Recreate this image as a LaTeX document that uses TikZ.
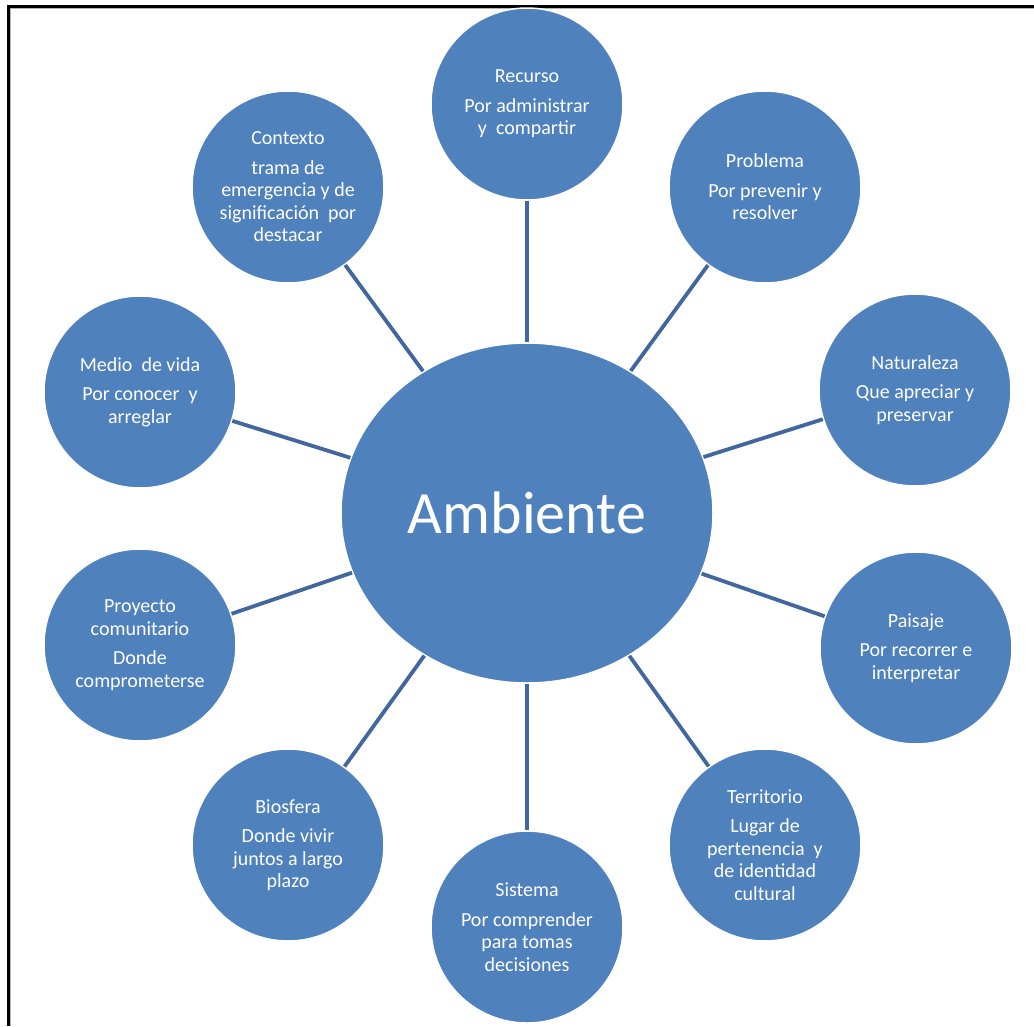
\documentclass[tikz,border=0pt]{standalone}
\usepackage{fontspec}
\setmainfont{Carlito}
\usetikzlibrary{shapes.geometric}

\definecolor{ambblue}{HTML}{4F81BD}
\definecolor{spokeblue}{HTML}{41679E}

\begin{document}
\begin{tikzpicture}[x=1pt, y=-1pt,
  satellite/.style={circle, fill=ambblue, draw=white, line width=1.5pt, minimum size=192pt,
    inner sep=0pt, text=white, align=center, font=\fontsize{20}{22.5}\selectfont},
  hub/.style={ellipse, fill=ambblue, draw=white, line width=1.5pt, minimum width=372pt,
    minimum height=340pt, inner sep=0pt, text=white, font=\fontsize{60}{70}\selectfont},
  spoke/.style={draw=spokeblue, line width=3.8pt}]
  \useasboundingbox (0,0) rectangle (1034,1026);
  \fill[white] (0,0) rectangle (1034,1026);

  % frame, only top and left
  \draw[gray!60, line width=1pt] (10.5,1026) -- (10.5,8.5) -- (1034,8.5);
  \draw[line width=3pt] (8,1026) -- (8,6) -- (1034,6);

  \node[hub] (amb) at (527,513) {Ambiente};

  \node[satellite] (rec) at (527,104) {Recurso\\[7pt] Por administrar\\ y~ compartir};
  \node[satellite] (prob) at (765,187) {Problema\\[7pt] Por prevenir y\\ resolver};
  \node[satellite] (nat) at (915,390) {Naturaleza\\[7pt] Que apreciar y\\ preservar};
  \node[satellite] (pais) at (916,648) {Paisaje\\[7pt] Por recorrer e\\ interpretar};
  \node[satellite] (terr) at (765,845) {Territorio\\[7pt] Lugar de\\ pertenencia~ y\\ de identidad\\ cultural};
  \node[satellite] (sis) at (527,927) {Sistema\\[7pt] Por comprender\\ para tomas\\ decisiones};
  \node[satellite] (bio) at (288,845) {Biosfera\\[7pt] Donde vivir\\ juntos a largo\\ plazo};
  \node[satellite] (proy) at (140,645) {Proyecto\\ comunitario\\[7pt] Donde\\ comprometerse};
  \node[satellite] (medio) at (140,392) {Medio~ de vida\\[7pt] Por conocer~ y\\ arreglar};
  \node[satellite] (cont) at (288,187) {Contexto\\[7pt] trama de\\ emergencia y de\\ significación~ por\\ destacar};

  \foreach \n in {rec,prob,nat,pais,terr,sis,bio,proy,medio,cont}
    \draw[spoke] (amb) -- (\n);
\end{tikzpicture}
\end{document}
